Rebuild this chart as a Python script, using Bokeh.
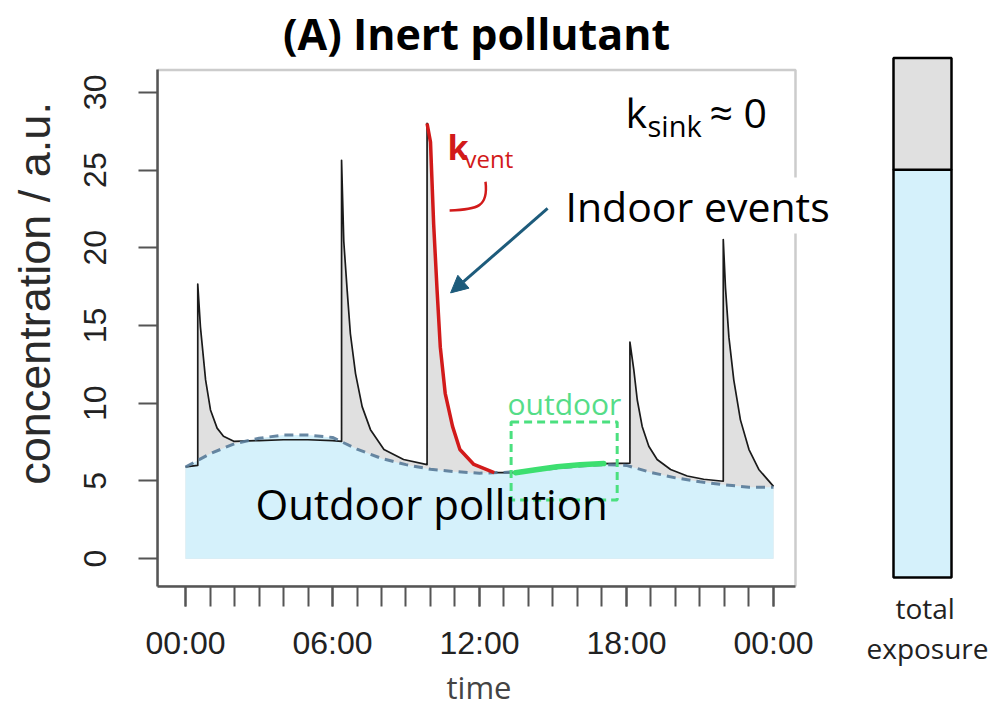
from bokeh.embed import file_html
from bokeh.layouts import row
from bokeh.models import (Arrow, BoxAnnotation, FixedTicker, Label, NormalHead,
                          Range1d, Title)
from bokeh.plotting import figure
from bokeh.resources import INLINE

# ---- data -------------------------------------------------------------
# outdoor concentration (hourly)
out_hours = list(range(25))
out_conc = [5.9, 6.75, 7.4, 7.75, 7.95, 7.95, 7.8, 7.05, 6.45, 6.05, 5.75, 5.6,
            5.5, 5.55, 5.65, 5.8, 5.95, 6.05, 6.0, 5.55, 5.2, 4.95, 4.75, 4.6, 4.6]

# indoor concentration (five indoor emission events on top of infiltration)
in_hours = [0.0, 0.25, 0.5, 0.5, 0.61, 0.82, 1.02, 1.29, 1.55, 1.97, 3.0, 4.0, 5.0, 6.0,
            6.37, 6.37, 6.46, 6.6, 6.73, 6.94, 7.21, 7.55, 8.1, 8.9,
            9.86, 9.86, 10.0, 10.13, 10.27, 10.4, 10.6, 10.9, 11.2, 11.77, 12.6,
            13.47, 14.3, 15.17, 16.1, 17.07,
            18.14, 18.14, 18.3, 18.44, 18.64, 18.91, 19.25, 19.8, 20.48, 21.15,
            21.95, 21.95, 22.04, 22.18, 22.38, 22.65, 23.0, 23.4, 24.0]
in_conc = [5.9, 5.95, 6.0, 17.66, 14.9, 11.5, 9.57, 8.4, 7.87, 7.55, 7.6, 7.65, 7.65, 7.6,
           7.55, 25.63, 20.42, 17.23, 14.47, 11.91, 9.78, 8.3, 7.02, 6.38,
           6.05, 28.0, 26.8, 21.49, 17.23, 13.61, 10.64, 8.51, 7.02, 6.06, 5.53,
           5.53, 5.72, 5.92, 6.05, 6.12,
           6.15, 13.93, 12.13, 10.21, 8.51, 7.23, 6.38, 5.74, 5.32, 5.11,
           4.98, 20.53, 17.44, 14.25, 11.49, 8.93, 7.02, 5.74, 4.65]

tick_hours = [0, 6, 12, 18, 24]
tick_labels = ["00:00", "06:00", "12:00", "18:00", "00:00"]
conc_ticks = [0, 5, 10, 15, 20, 25, 30]

vent_end_hour = 12.6            # end of the highlighted ventilation decay
clean_hours = (13.4, 17.1)      # indoor ~ outdoor, no indoor sources
clean_box = dict(left=13.29, right=17.62, bottom=3.78, top=8.79)

exposure_parts = ["outdoor", "indoor events"]
exposure_share = [78.5, 21.5]

# ---- colours / fonts -------------------------------------------------
BLUE_FILL = "#d5f1fb"
GREY_FILL = "#e0e0e0"
DASH_BLUE = "#587a98"
RED = "#d21a1a"
GREEN = "#3ddf70"
GREEN_TXT = "#55dd88"
ARROW = "#1d5b7b"
AXIS_GREY = "#555555"
SANS = "Open Sans"
R_FONT = "Liberation Sans"

# ---- main panel ------------------------------------------------------
MAIN_W, H = 840, 707
FL = 157                        # frame left on the page
BOTTOM = 117                    # room for tick labels and the "time" label
FB = H - BOTTOM                 # frame bottom (x axis) on the page
# plotting region drawn as a box (time in hours, concentration)
X_LO, X_HI = -1.143, 24.898
Y_LO, Y_HI = -1.79, 31.44

p = figure(width=MAIN_W, height=H, output_backend="svg", toolbar_location=None,
           x_range=Range1d(X_LO, 26.735), y_range=Range1d(Y_LO, 35.91),
           min_border_left=FL, min_border_right=0,
           min_border_top=0, min_border_bottom=BOTTOM)
p.background_fill_color = "white"
p.border_fill_color = "white"
p.outline_line_color = None
p.xgrid.visible = False
p.ygrid.visible = False

p.xaxis.ticker = FixedTicker(ticks=tick_hours, minor_ticks=out_hours)
p.xaxis.major_label_overrides = {h: lab for h, lab in zip(tick_hours, tick_labels)}
p.xaxis.minor_tick_out = 20
p.xaxis.minor_tick_in = 0
p.xaxis.minor_tick_line_color = AXIS_GREY
p.xaxis.minor_tick_line_width = 2
p.xaxis.major_tick_out = 20
p.xaxis.major_label_standoff = 18
p.xaxis.bounds = (X_LO, X_HI)

p.yaxis.ticker = FixedTicker(ticks=conc_ticks)
p.yaxis.major_label_orientation = "vertical"
p.yaxis.minor_tick_line_color = None
p.yaxis.major_tick_out = 19
p.yaxis.major_label_standoff = 32
p.yaxis.bounds = (Y_LO, Y_HI)
p.yaxis.axis_label = "concentration / a.u."
p.yaxis.axis_label_text_font = R_FONT
p.yaxis.axis_label_text_font_size = "45px"
p.yaxis.axis_label_text_font_style = "normal"
p.yaxis.axis_label_text_color = "#2a2a2a"
p.yaxis.axis_label_standoff = 22

for ax in (p.xaxis, p.yaxis):
    ax.axis_line_color = AXIS_GREY
    ax.axis_line_width = 2.5
    ax.major_tick_in = 0
    ax.major_tick_line_color = AXIS_GREY
    ax.major_tick_line_width = 2
    ax.major_label_text_font = R_FONT
    ax.major_label_text_font_size = "32px"
    ax.major_label_text_color = "#222222"

p.add_layout(Title(text="time", align="left", offset=446 - FL, standoff=0,
                   text_font=SANS, text_font_size="31px", text_font_style="normal"),
             "below")

# fills: grey up to indoor curve, then outdoor contribution on top
p.varea(x=in_hours, y1=0, y2=in_conc, fill_color=GREY_FILL)
p.varea(x=out_hours, y1=0, y2=out_conc, fill_color=BLUE_FILL)

# curves
p.line(in_hours, in_conc, line_color="#1a1a1a", line_width=1.7, line_join="round")
p.line(out_hours, out_conc, line_color=DASH_BLUE, line_width=3, line_dash="9 6",
       line_alpha=0.9)

# ventilation decay of the largest event
peak_i = in_conc.index(max(in_conc))
vent_idx = [i for i in range(peak_i, len(in_hours)) if in_hours[i] <= vent_end_hour]
p.line([in_hours[i] for i in vent_idx], [in_conc[i] for i in vent_idx],
       line_color=RED, line_width=3.5, line_join="round")

# period dominated by outdoor air
clean_idx = [i for i, h in enumerate(in_hours) if clean_hours[0] <= h <= clean_hours[1]]
p.line([in_hours[i] for i in clean_idx], [in_conc[i] for i in clean_idx],
       line_color=GREEN, line_width=5.5, line_cap="round")
p.quad(fill_color=None, line_color="#4be07f", line_width=3, line_dash="8 5", **clean_box)

# k_vent bracket
p.bezier(x0=[12.245], y0=[24.25], x1=[10.78], y1=[22.4],
         cx0=[12.37], cy0=[22.65], cx1=[11.93], cy1=[22.45],
         line_color=RED, line_width=2.5)

# arrow pointing at the indoor event decay
p.add_layout(Arrow(end=NormalHead(size=17, fill_color=ARROW, line_color=ARROW),
                   x_start=14.78, y_start=22.53, x_end=10.82, y_end=17.1,
                   line_color=ARROW, line_width=3))

# box around the plotting region
p.add_layout(BoxAnnotation(left=X_LO, right=X_HI, bottom=Y_LO, top=Y_HI,
                           fill_color=None, line_color=AXIS_GREY, line_width=2.5))


def txt(text, px, baseline_py, size, color="black", font=SANS, align="left",
        style="normal", **extra):
    """Place a text with its baseline at a page pixel position."""
    p.add_layout(Label(text=text, text_font=font, text_font_size=f"{size}px",
                       text_color=color, text_align=align, text_baseline="alphabetic",
                       text_font_style=style,
                       x=px - FL, y=FB - baseline_py + 0.29 * size,
                       x_units="screen", y_units="screen", **extra))


txt("(A) Inert pollutant", 476, 49, 43, style="bold", align="center")

txt("k", 625, 127, 41)
txt("sink", 647, 137, 29)
txt("\u2248 0", 709, 127, 41)

txt("k", 447, 160, 34, color=RED, style="bold")
txt("vent", 464, 169, 24, color=RED)

txt("Indoor events", 565, 221, 41, background_fill_color="white")
txt("Outdoor pollution", 255, 519, 42)
txt("outdoor", 507, 416, 30, color=GREEN_TXT)

# ---- total exposure bar -----------------------------------------------
BAR_W = 997 - MAIN_W
BAR_L, BAR_R, BAR_T, BAR_B = 893, 951, 58, 581   # bar edges on the page
bar_px = (BAR_B - BAR_T) / sum(exposure_share)
bar_w = BAR_R - BAR_L
pb = figure(width=BAR_W, height=H, output_backend="svg", toolbar_location=None,
            x_range=Range1d(-(BAR_L - MAIN_W) / bar_w, 1 + (997 - BAR_R) / bar_w),
            y_range=Range1d(-(FB - BAR_B) / bar_px, sum(exposure_share) + BAR_T / bar_px),
            x_axis_location=None, y_axis_location=None,
            min_border_left=0, min_border_right=0,
            min_border_top=0, min_border_bottom=BOTTOM)
pb.background_fill_color = "white"
pb.border_fill_color = "white"
pb.outline_line_color = None
pb.grid.visible = False

tops = [sum(exposure_share[:i + 1]) for i in range(len(exposure_share))]
bottoms = [t - s for t, s in zip(tops, exposure_share)]
pb.quad(left=0, right=1, bottom=bottoms, top=tops,
        fill_color=[BLUE_FILL, GREY_FILL], line_color="black", line_width=2.5)

for word, left in (("total", 895), ("exposure", 866)):
    pb.add_layout(Title(text=word, align="left", offset=left - MAIN_W, standoff=0,
                        text_font=SANS, text_font_size="28px", text_font_style="normal",
                        text_color="#222222"),
                  "below")

layout = row(p, pb)
open("out.html", "w").write(file_html(layout, INLINE))
